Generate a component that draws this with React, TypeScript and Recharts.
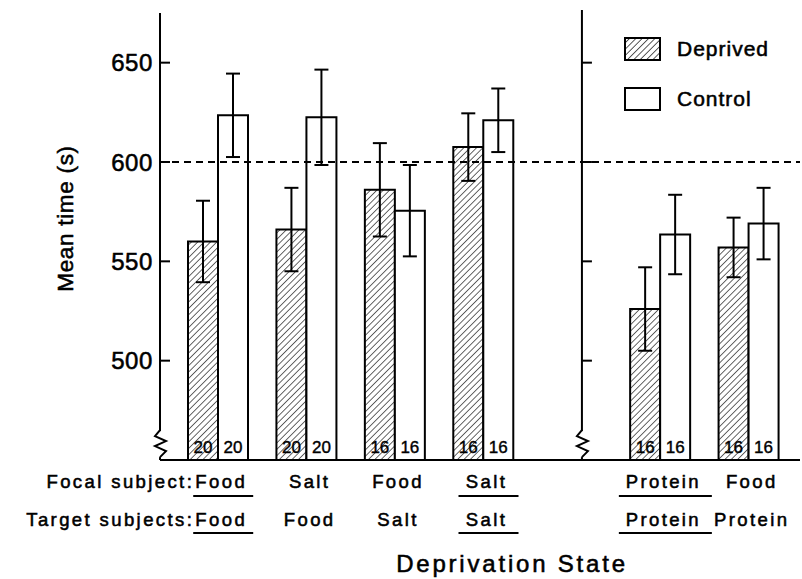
import React from 'react';
import {
  BarChart,
  Bar,
  XAxis,
  YAxis,
  ReferenceLine,
  ReferenceDot,
  ErrorBar,
  LabelList,
  Legend,
} from 'recharts';

const FONT = '"Liberation Sans", Arial, Helvetica, sans-serif';
const TEXT_STROKE = 0.55;

// ---- data ----
const categories = ['Food/Food', 'Salt/Food', 'Food/Salt', 'Salt/Salt', 'divider', 'Protein/Protein', 'Food/Protein'];
const focalLabels = ['Food', 'Salt', 'Food', 'Salt', '', 'Protein', 'Food'];
const targetLabels = ['Food', 'Food', 'Salt', 'Salt', '', 'Protein', 'Protein'];
const underlined = [true, false, false, true, false, true, false];

const deprivedMeans = [560, 566, 586, 607.5, null, 526, 557];
const deprivedErrors = [20.5, 21, 23.5, 17, null, 21, 15];
const controlMeans = [623.5, 622.5, 575.5, 621, null, 563.5, 569];
const controlErrors = [21, 24, 23, 16, null, 20, 18];
const deprivedN = [20, 20, 16, 16, null, 16, 16];
const controlN = [20, 20, 16, 16, null, 16, 16];

const seriesNames = ['Deprived', 'Control'];
const yTicks = [500, 550, 600, 650];
const AXIS_BREAK = 458;
const REFERENCE_TIME = 600;
const DIVIDER = 'divider';

const data = categories.map((group, i) => ({
  group,
  deprived: deprivedMeans[i],
  deprivedErr: deprivedErrors[i],
  control: controlMeans[i],
  controlErr: controlErrors[i],
  nDeprived: deprivedN[i],
  nControl: controlN[i],
}));

// ---- drawing helpers ----
const Zigzag = ({ x, y }: { x: number; y: number }) => (
  <g>
    <rect x={x - 7} y={y - 13} width={15} height={26} fill="#fff" />
    <polyline
      points={`${x},${y - 14} ${x - 5},${y - 8} ${x + 6},${y - 3} ${x - 5},${y + 2} ${x + 6},${y + 7} ${x},${y + 13}`}
      fill="none"
      stroke="#000"
      strokeWidth={2}
    />
  </g>
);

const YTick = (props: any) => {
  const { x, y, payload } = props;
  const axisX = x + 7;
  if (payload.value === AXIS_BREAK) return <Zigzag x={axisX} y={y} />;
  return (
    <g>
      <line x1={axisX} y1={y} x2={axisX + 10} y2={y} stroke="#000" strokeWidth={2} />
      <text
        x={x}
        y={y}
        dy="0.36em"
        textAnchor="end"
        fontFamily={FONT}
        fontSize={24}
        letterSpacing={0.6}
        fill="#000"
        stroke="#000"
        strokeWidth={TEXT_STROKE}
      >
        {payload.value}
      </text>
    </g>
  );
};

const XTick = (props: any) => {
  const { x, y, payload } = props;
  const i = categories.indexOf(payload.value);
  const focal = focalLabels[i];
  const target = targetLabels[i];
  if (!focal) return null;
  const common = {
    fontFamily: FONT,
    fontSize: 18.5,
    letterSpacing: 2.4,
    fill: '#000',
    stroke: '#000',
    strokeWidth: TEXT_STROKE,
  };
  const tx = x + 3;
  const ulF = focal.length * 11 + 16;
  const ulT = target.length * 11 + 16;
  return (
    <g>
      {i === 0 && (
        <>
          <text x={x - 24} y={y + 28} textAnchor="end" {...common}>Focal subject:</text>
          <text x={x - 24} y={y + 66} textAnchor="end" {...common}>Target subjects:</text>
        </>
      )}
      <text x={tx} y={y + 28} textAnchor="middle" {...common}>{focal}</text>
      <text x={tx} y={y + 66} textAnchor="middle" {...common}>{target}</text>
      {underlined[i] && (
        <>
          <line x1={x + 5 - ulF / 2} x2={x + 5 + ulF / 2} y1={y + 36} y2={y + 36} stroke="#000" strokeWidth={2} />
          <line x1={x + 5 - ulT / 2} x2={x + 5 + ulT / 2} y1={y + 73} y2={y + 73} stroke="#000" strokeWidth={2} />
        </>
      )}
    </g>
  );
};

const DIVIDER_SHIFT = 10;

const DividerAxis = (p: any) => {
  const top = Math.min(p.y1, p.y2);
  const bottom = Math.max(p.y1, p.y2);
  const x = p.x1 + DIVIDER_SHIFT;
  return <line x1={x} x2={x} y1={top - 3} y2={bottom} stroke="#000" strokeWidth={2} />;
};

const DividerTick = (p: any) => (
  <line x1={p.cx + DIVIDER_SHIFT} x2={p.cx + DIVIDER_SHIFT + 10} y1={p.cy} y2={p.cy} stroke="#000" strokeWidth={2} />
);

const DividerBreak = (p: any) => <Zigzag x={p.cx + DIVIDER_SHIFT} y={p.cy} />;

const LegendContent = () => (
  <div
    style={{
      fontFamily: FONT,
      fontSize: 21,
      letterSpacing: 1,
      color: '#000',
      WebkitTextStroke: `${TEXT_STROKE}px #000`,
    }}
  >
    {seriesNames.map((name, i) => (
      <div
        key={name}
        style={{ display: 'flex', alignItems: 'center', height: 24, marginBottom: i === 0 ? 26 : 0 }}
      >
        <svg width={37} height={24} style={{ display: 'block' }}>
          <defs>
            <pattern id={`lhatch${i}`} width={4.5} height={4.5} patternUnits="userSpaceOnUse" patternTransform="rotate(45)">
              <rect width={4.5} height={4.5} fill="#fff" />
              <line x1={0} y1={0} x2={0} y2={4.5} stroke="#000" strokeWidth={1.3} />
            </pattern>
          </defs>
          <rect x={1} y={1} width={35} height={22} fill={i === 0 ? `url(#lhatch${i})` : '#fff'} stroke="#000" strokeWidth={2} />
        </svg>
        <span style={{ marginLeft: 16, lineHeight: '24px' }}>{name}</span>
      </div>
    ))}
  </div>
);

const YLabel = (props: any) => {
  const vb = props.viewBox;
  const cx = vb.x - 27;
  const cy = vb.y + vb.height / 2 - 18;
  return (
    <text
      x={cx}
      y={cy}
      transform={`rotate(-90, ${cx}, ${cy})`}
      textAnchor="middle"
      fontFamily={FONT}
      fontSize={22.5}
      letterSpacing={0.7}
      fill="#000"
      stroke="#000"
      strokeWidth={TEXT_STROKE}
    >
      Mean time (s)
    </text>
  );
};

const XLabel = (props: any) => {
  const vb = props.viewBox;
  return (
    <text
      x={vb.x + vb.width / 2 + 32}
      y={vb.y + vb.height - 7}
      textAnchor="middle"
      fontFamily={FONT}
      fontSize={24}
      letterSpacing={2.8}
      fill="#000"
      stroke="#000"
      strokeWidth={TEXT_STROKE}
    >
      Deprivation State
    </text>
  );
};

export default function App() {
  return (
    <div style={{ position: 'absolute', left: 0, top: 0, background: '#fff' }}>
      <BarChart
        width={802}
        height={579}
        data={data}
        margin={{ top: 13, right: 2, left: 100, bottom: 0 }}
        barGap={0}
      >
        <defs>
          <pattern id="hatch" width={4.5} height={4.5} patternUnits="userSpaceOnUse" patternTransform="rotate(45)">
            <rect width={4.5} height={4.5} fill="#fff" />
            <line x1={0} y1={0} x2={0} y2={4.5} stroke="#000" strokeWidth={1.2} />
          </pattern>
        </defs>
        <XAxis
          dataKey="group"
          type="category"
          height={119}
          interval={0}
          padding={{ left: 14, right: 7 }}
          tickLine={false}
          tickSize={0}
          tickMargin={0}
          axisLine={{ stroke: '#000', strokeWidth: 2 }}
          tick={<XTick />}
          label={<XLabel />}
        />
        <YAxis
          type="number"
          domain={[450, 675]}
          ticks={[AXIS_BREAK, ...yTicks]}
          interval={0}
          width={60}
          tickLine={false}
          tickSize={0}
          tickMargin={7}
          axisLine={{ stroke: '#000', strokeWidth: 2 }}
          tick={<YTick />}
          label={<YLabel />}
          allowDataOverflow
        />
        <ReferenceLine y={REFERENCE_TIME} stroke="#000" strokeWidth={2} strokeDasharray="7 5" />
        <ReferenceLine x={DIVIDER} shape={<DividerAxis />} />
        {yTicks.map((v) => (
          <ReferenceDot key={v} x={DIVIDER} y={v} shape={<DividerTick />} />
        ))}
        <ReferenceDot x={DIVIDER} y={AXIS_BREAK} shape={<DividerBreak />} />
        <Bar
          dataKey="deprived"
          name={seriesNames[0]}
          fill="url(#hatch)"
          stroke="#000"
          strokeWidth={2}
          barSize={30}
          isAnimationActive={false}
        >
          <ErrorBar dataKey="deprivedErr" width={7} stroke="#000" strokeWidth={2} direction="y" isAnimationActive={false} />
          <LabelList
            dataKey="nDeprived"
            position="insideBottom"
            offset={7}
            fill="#000"
            stroke="#000"
            strokeWidth={0.4}
            fontSize={17}
            fontFamily={FONT}
          />
        </Bar>
        <Bar
          dataKey="control"
          name={seriesNames[1]}
          fill="#fff"
          stroke="#000"
          strokeWidth={2}
          barSize={30}
          isAnimationActive={false}
        >
          <ErrorBar dataKey="controlErr" width={7} stroke="#000" strokeWidth={2} direction="y" isAnimationActive={false} />
          <LabelList
            dataKey="nControl"
            position="insideBottom"
            offset={7}
            fill="#000"
            stroke="#000"
            strokeWidth={0.4}
            fontSize={17}
            fontFamily={FONT}
          />
        </Bar>
        <Legend
          layout="vertical"
          align="center"
          verticalAlign="middle"
          content={<LegendContent />}
          wrapperStyle={{ position: 'absolute', left: 624, top: 37, width: 'auto', height: 'auto' }}
        />
      </BarChart>
    </div>
  );
}
